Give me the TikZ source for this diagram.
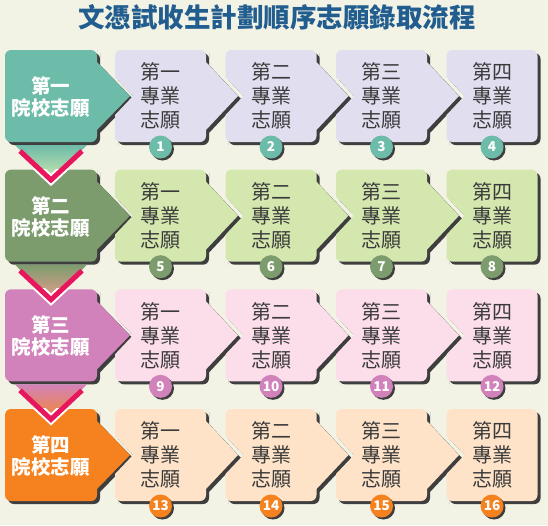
\documentclass[tikz,border=0pt]{standalone}
\usepackage{fontspec}
\setmainfont{Noto Sans CJK TC}
\definecolor{bgc}{HTML}{F2F2E5}
\definecolor{titlec}{HTML}{215D8E}
\definecolor{shadc}{HTML}{3E3E3E}
\definecolor{magc}{HTML}{E8175D}
\definecolor{txtc}{HTML}{3A3A3A}
\definecolor{mA}{HTML}{6DBBA9}\definecolor{sA}{HTML}{E1DEEF}
\definecolor{mB}{HTML}{7C9C6E}\definecolor{sB}{HTML}{D3E7AF}
\definecolor{mC}{HTML}{D282BA}\definecolor{sC}{HTML}{FCDDEA}
\definecolor{mD}{HTML}{F5821F}\definecolor{sD}{HTML}{FEE3C8}
\definecolor{gA}{HTML}{D2EAB0}\definecolor{gB}{HTML}{EE9E90}\definecolor{gC}{HTML}{F5882A}
\tikzset{
  titletxt/.style={text=titlec, font=\fontsize{26.5}{30}\selectfont\bfseries, inner sep=0pt},
  maintxt/.style={text=white, align=center, font=\fontsize{19.5}{22}\selectfont\bfseries, inner sep=0pt},
  subtxt/.style={text=txtc, align=center, font=\fontsize{20}{24}\selectfont, inner sep=0pt},
  numdot/.style={circle, minimum size=23pt, inner sep=0pt, text=white, font=\fontsize{13.5}{13.5}\selectfont\bfseries},
  shad/.style={fill=shadc},
  vline/.style={magc, line width=5pt, line join=miter},
}
\newcommand\MainPath{(50,\T) [rounded corners=6] -- (97,\T) -- (97,\T+6) [sharp corners] -- (97,\T+12) -- (130,\T+46) -- (97,\T+80) -- (97,\T+86) [rounded corners=6] -- (97,\B) -- (5,\B) -- (5,\T) -- cycle}
\newcommand\SubPath{(\L+40,\T) [rounded corners=6] -- (\L+91,\T) -- (\L+91,\T+6) [sharp corners] -- (\L+91,\T+12) -- (\L+123,\T+46) -- (\L+91,\T+80) -- (\L+91,\T+86) [rounded corners=6] -- (\L+91,\B) -- (\L,\B) -- (\L,\B-6) [sharp corners] -- (\L,\T+65) -- (\L+18,\T+46) -- (\L,\T+27) -- (\L,\T+21) [rounded corners=6] -- (\L,\T) -- cycle}
\newcommand\LastPath{(\L+40,\T) [rounded corners=6] -- (\L+91,\T) -- (\L+91,\B) -- (\L,\B) -- (\L,\B-6) [sharp corners] -- (\L,\T+65) -- (\L+18,\T+46) -- (\L,\T+27) -- (\L,\T+21) [rounded corners=6] -- (\L,\T) -- cycle}
\begin{document}
\begin{tikzpicture}[x=1pt,y=-1pt]
\useasboundingbox (0,0) rectangle (548,525);
\fill[bgc] (0,0) rectangle (548,525);
\node[titletxt] (title) at (277,17) {文憑試收生計劃順序志願錄取流程};
\foreach \r/\mc/\sc/\ord in {0/mA/sA/一, 1/mB/sB/二, 2/mC/sC/三, 3/mD/sD/四}{
  \pgfmathsetmacro{\T}{50+119.67*\r}
  \pgfmathsetmacro{\B}{\T+92}
  % shadows
  \fill[shad, shift={(3,3)}] \MainPath;
  \foreach \j in {0,1,2}{
    \pgfmathsetmacro{\L}{115+110.5*\j}
    \fill[shad, shift={(3,3)}] \SubPath;
  }
  \def\L{446.5}
  \fill[shad, shift={(3,3)}] \LastPath;
  % boxes
  \fill[\mc] \MainPath;
  \node[maintxt] (main\r) at (51,\T+47) {第\ord\\院校志願};
  \foreach \j in {0,1,2}{
    \pgfmathsetmacro{\L}{115+110.5*\j}
    \fill[\sc] \SubPath;
  }
  \def\L{446.5}
  \fill[\sc] \LastPath;
  \foreach \j/\o in {0/一,1/二,2/三,3/四}{
    \pgfmathsetmacro{\L}{115+110.5*\j}
    \pgfmathtruncatemacro{\num}{4*\r+\j+1}
    \node[subtxt] (sub\r\j) at (\L+45.5,\T+46) {第\o\\專業\\志願};
    \fill[shad] (\L+47.5,\B+7) circle (11.5);
    \node[numdot, fill=\mc] (num\r\j) at (\L+45.5,\B+5) {\num};
  }
}
% down arrows
\foreach \r/\tc/\bc in {0/mA/gA, 1/mB/gB, 2/mC/gC}{
  \pgfmathsetmacro{\B}{50+119.67*\r+92}
  \shade[top color=\tc, bottom color=\bc] (15,\B+3) -- (87,\B+3) -- (51,\B+40) -- cycle;
  \begin{scope}
    \clip (0,\B+27) rectangle (140,\B+70);
    \draw[white, line width=9pt, line join=miter] (20,\B+9) -- (51,\B+38) -- (82,\B+9);
  \end{scope}
  \draw[vline] (20,\B+9) -- (51,\B+38) -- (82,\B+9);
}
\end{tikzpicture}
\end{document}
